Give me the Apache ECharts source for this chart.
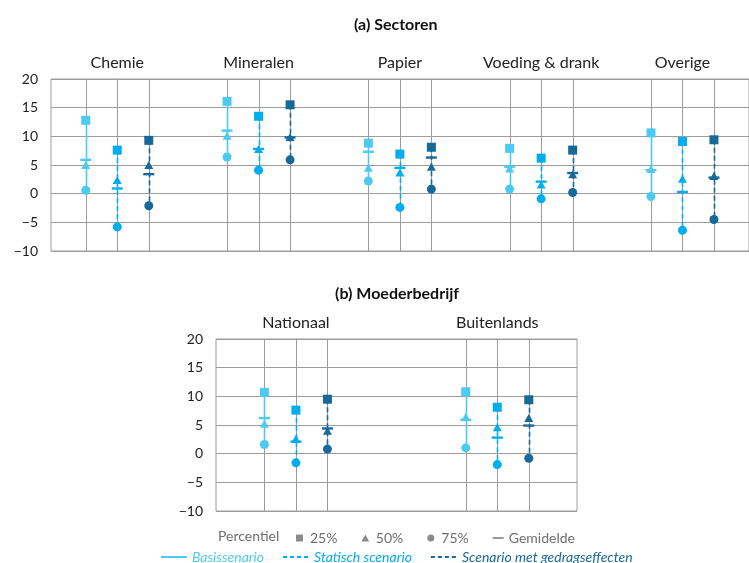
<!DOCTYPE html>
<html><head><meta charset="utf-8">
<script src="https://cdn.jsdelivr.net/npm/echarts@6/dist/echarts.min.js"></script>
<style>html,body{margin:0;padding:0;background:#fff}#c{width:749px;height:563px}</style>
</head><body><div id="c"></div>
<script>
// ---- categories and labels ----
const sectorCategories = ['Chemie', 'Mineralen', 'Papier', 'Voeding & drank', 'Overige'];
const parentCategories = ['Nationaal', 'Buitenlands'];
const scenarioNames = ['Basissenario', 'Statisch scenario', 'Scenario met gedragseffecten'];
const percentileNames = ['25%', '50%', '75%', 'Gemidelde'];
const panelTitles = ['(a) Sectoren', '(b) Moederbedrijf'];
const legendHeading = 'Percentiel';

// ---- panel (a) Sectoren ----
const a_basis_p25 = [12.8, 16.1, 8.8, 7.9, 10.6];
const a_basis_p50 = [5.0, 10.1, 4.5, 4.4, 4.3];
const a_basis_p75 = [0.6, 6.4, 2.2, 0.8, -0.5];
const a_basis_mean = [5.9, 11.0, 7.3, 4.7, 4.1];

const a_statisch_p25 = [7.6, 13.5, 6.9, 6.2, 9.1];
const a_statisch_p50 = [2.4, 7.8, 3.7, 1.6, 2.6];
const a_statisch_p75 = [-5.8, 4.1, -2.4, -0.9, -6.4];
const a_statisch_mean = [0.9, 7.8, 4.5, 2.1, 0.3];

const a_gedrag_p25 = [9.3, 15.5, 8.1, 7.6, 9.4];
const a_gedrag_p50 = [5.0, 9.9, 4.7, 3.4, 3.1];
const a_gedrag_p75 = [-2.1, 5.9, 0.8, 0.2, -4.5];
const a_gedrag_mean = [3.4, 9.8, 6.3, 3.6, 2.8];

// ---- panel (b) Moederbedrijf ----
const b_basis_p25 = [10.7, 10.8];
const b_basis_p50 = [5.2, 6.4];
const b_basis_p75 = [1.6, 1.0];
const b_basis_mean = [6.2, 5.9];

const b_statisch_p25 = [7.6, 8.1];
const b_statisch_p50 = [2.6, 4.6];
const b_statisch_p75 = [-1.6, -1.9];
const b_statisch_mean = [2.1, 2.8];

const b_gedrag_p25 = [9.5, 9.4];
const b_gedrag_p50 = [4.0, 6.2];
const b_gedrag_p75 = [0.8, -0.8];
const b_gedrag_mean = [4.4, 4.9];

// ---- styling ----
const FONT = 'Lato';
const colors = ['#4ccaf2', '#00adee', '#17699a'];
const dashes = [null, [5, 3], [5, 3]];
const gridColor = '#9c9c9c';
const legendGray = '#6e6e6e';

const panels = [
  { cats: sectorCategories, offset: 0.223, min: -0.469, max: 4.471,
    data: [[a_basis_p25, a_basis_p50, a_basis_p75, a_basis_mean],
           [a_statisch_p25, a_statisch_p50, a_statisch_p75, a_statisch_mean],
           [a_gedrag_p25, a_gedrag_p50, a_gedrag_p75, a_gedrag_mean]] },
  { cats: parentCategories, offset: 0.1565, min: -0.397, max: 1.396,
    data: [[b_basis_p25, b_basis_p50, b_basis_p75, b_basis_mean],
           [b_statisch_p25, b_statisch_p50, b_statisch_p75, b_statisch_mean],
           [b_gedrag_p25, b_gedrag_p50, b_gedrag_p75, b_gedrag_mean]] }
];

const grids = [
  { left: 51, right: 0, top: 79, height: 172, show: true, borderColor: gridColor, borderWidth: 1 },
  { left: 216, right: 172, top: 339, height: 172, show: true, borderColor: gridColor, borderWidth: 1 }
];

const xAxes = panels.map((p, gi) => ({
  type: 'value', gridIndex: gi, position: 'top', min: p.min, max: p.max,
  axisLine: { show: false }, axisTick: { show: false }, splitLine: { show: false },
  axisLabel: {
    customValues: p.cats.map((c, i) => i),
    formatter: v => p.cats[Math.round(v)] || '',
    margin: 8, color: '#222', fontFamily: FONT, fontSize: 16
  }
}));

const yAxes = panels.map((p, gi) => ({
  type: 'value', gridIndex: gi, min: -10, max: 20, interval: 5,
  axisLine: { show: true, lineStyle: { color: gridColor } },
  axisTick: { show: true, length: 8, lineStyle: { color: gridColor } },
  splitLine: { show: true, lineStyle: { color: gridColor, width: 1 } },
  axisLabel: {
    margin: 13, color: '#222', fontFamily: FONT, fontSize: 14,
    formatter: v => (v < 0 ? '\u2212' + Math.abs(v) : String(v))
  }
}));

const series = [];
panels.forEach((p, gi) => {
  p.data.forEach((sd, s) => {
    const [p25, p50, p75, mean] = sd;
    const xs = p.cats.map((c, i) => i + (s - 1) * p.offset);
    const color = colors[s];
    const dash = dashes[s];
    series.push({
      type: 'custom', name: 'range-' + gi + '-' + s, xAxisIndex: gi, yAxisIndex: gi,
      silent: true, z: 2, clip: false,
      data: xs.map((x, i) => [x, p25[i], p75[i]]),
      encode: { x: 0, y: [1, 2] },
      renderItem: (params, api) => {
        const x = api.value(0);
        const top = api.coord([x, api.value(1)]);
        const bot = api.coord([x, api.value(2)]);
        const cs = params.coordSys;
        const px = Math.round(top[0]) + 0.5;
        return { type: 'group', children: [
          { type: 'line', shape: { x1: px, y1: cs.y, x2: px, y2: cs.y + cs.height },
            style: { stroke: gridColor, lineWidth: 1 } },
          { type: 'line', shape: { x1: px, y1: top[1], x2: px, y2: bot[1] },
            style: { stroke: color, lineWidth: 1.6, lineDash: dash } }
        ] };
      }
    });
    const pts = [];
    xs.forEach((x, i) => {
      pts.push({ value: [x, p25[i]], symbol: 'rect', symbolSize: 9 });
      pts.push({ value: [x, p50[i]], symbol: 'triangle', symbolSize: [9, 8] });
      pts.push({ value: [x, p75[i]], symbol: 'circle', symbolSize: 9 });
      pts.push({ value: [x, mean[i]], symbol: 'rect', symbolSize: [11, 2.4] });
    });
    series.push({
      type: 'scatter', name: 'pts-' + gi + '-' + s, xAxisIndex: gi, yAxisIndex: gi,
      silent: true, z: 3, itemStyle: { color: color, opacity: 1 }, data: pts
    });
  });
});

// legend-only series
const pctIcons = ['path://M0,0h10v10h-10z', 'path://M5,0L10,9H0Z', 'circle', 'path://M0,0h14v2.2h-14z'];
percentileNames.forEach(n => series.push({ type: 'scatter', name: n, data: [], itemStyle: { color: legendGray } }));
scenarioNames.forEach((n, s) => series.push({
  type: 'line', name: n, data: [], symbol: 'none',
  itemStyle: { color: colors[s] },
  lineStyle: { color: colors[s], width: 1.5, type: dashes[s] ? [4, 3] : 'solid' }
}));

const option = {
  animation: false,
  backgroundColor: '#fff',
  title: [
    { text: panelTitles[0], left: 349, top: 12, textStyle: { fontFamily: FONT, fontSize: 16, fontWeight: 'bold', color: '#111' } },
    { text: panelTitles[1], left: 330, top: 281, textStyle: { fontFamily: FONT, fontSize: 16, fontWeight: 'bold', color: '#111' } },
    { text: legendHeading, left: 213, top: 524, textStyle: { fontFamily: FONT, fontSize: 14, fontWeight: 'normal', color: legendGray } }
  ],
  legend: [
    { left: 291, top: 526, itemWidth: 11, itemHeight: 7, itemGap: 24, selectedMode: false,
      textStyle: { fontFamily: FONT, fontSize: 14, color: legendGray },
      data: percentileNames.map((n, i) => ({ name: n, icon: pctIcons[i] })) },
    { left: 155, top: 545, itemWidth: 26, itemHeight: 10, itemGap: 18, selectedMode: false,
      textStyle: { fontFamily: FONT, fontSize: 14 },
      data: scenarioNames.map((n, s) => ({ name: n, itemStyle: { opacity: 0 },
        textStyle: { color: colors[s], fontStyle: 'italic' } })) }
  ],
  grid: grids,
  xAxis: xAxes,
  yAxis: yAxes,
  series: series
};

const chart = echarts.init(document.getElementById('c'), null, { renderer: 'canvas' });
chart.setOption(option);
</script>
</body></html>
